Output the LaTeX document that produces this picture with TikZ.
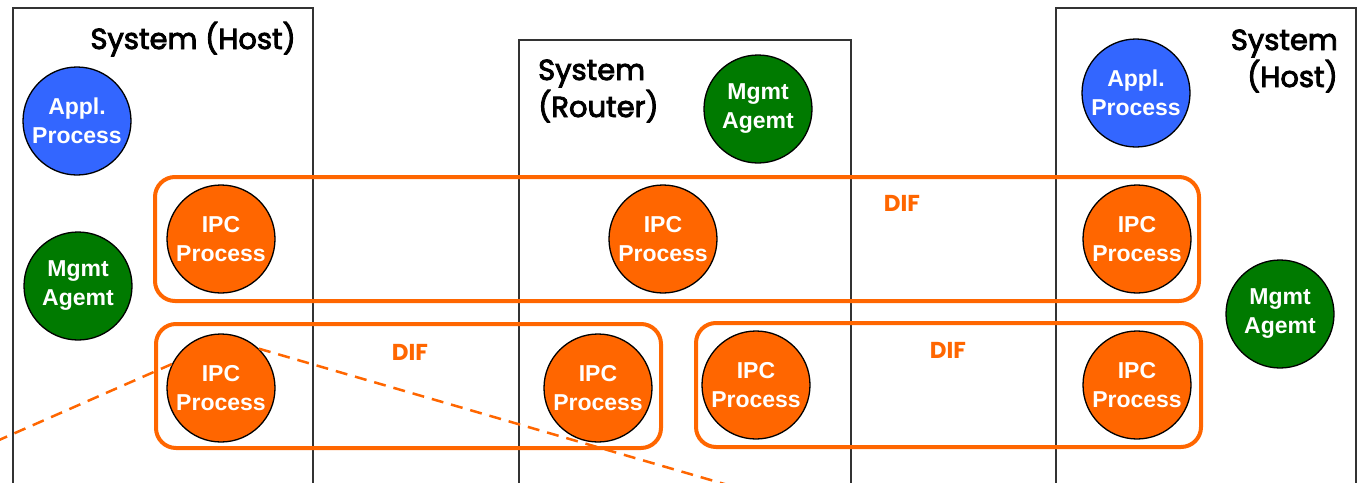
\documentclass[tikz,border=0pt]{standalone}
\usepackage{fontspec}
\usepackage{tikz}
\usetikzlibrary{positioning}
\newfontfamily\geofont{Poppins}
\newfontfamily\titlefont{Poppins}[FakeBold=3]
\newfontfamily\labelfont{Liberation Sans}
\definecolor{ipcorange}{RGB}{255,102,0}
\definecolor{applblue}{RGB}{51,102,255}
\definecolor{mgmtgreen}{RGB}{0,122,0}
\tikzset{
  sysbox/.style={draw=black!80, line width=1.3pt},
  difbox/.style={draw=ipcorange, line width=4pt, rounded corners=20pt},
  proc/.style={circle, draw=black, line width=1.3pt, minimum size=108pt, inner sep=0pt,
    align=center, text=white, font=\labelfont\bfseries\fontsize{23}{29}\selectfont},
  ipc/.style={proc, fill=ipcorange},
  appl/.style={proc, fill=applblue},
  mgmt/.style={proc, fill=mgmtgreen},
  systitle/.style={inner sep=0pt, font=\titlefont\fontsize{29}{37}\selectfont},
  diflabel/.style={text=ipcorange, font=\geofont\bfseries\fontsize{23}{28}\selectfont},
  zoomline/.style={draw=ipcorange, line width=2.5pt, dash pattern=on 12pt off 8pt},
}
\begin{document}
\begin{tikzpicture}[x=1pt, y=-1pt]
  \clip (0,0) rectangle (1359,482);

  % the three systems
  \draw[sysbox] (13,8) rectangle (313,500);
  \draw[sysbox] (519,40) rectangle (851,500);
  \draw[sysbox] (1056,8) rectangle (1356,500);
  \node[systitle, anchor=base east] (hostL) at (296,49) {System (Host)};
  \node[systitle, anchor=base west, align=left] (router) at (538,117) {System\\(Router)};
  \node[systitle, anchor=base east, align=right] (hostR) at (1338,87) {System\\(Host)};

  % DIFs
  \draw[difbox] (155,177) rectangle (1199,301);
  \draw[difbox] (156,324) rectangle (661,448);
  \draw[difbox] (696,323) rectangle (1201,447);
  \node[diflabel] (difTop) at (902,203) {DIF};
  \node[diflabel] (difL) at (410,352) {DIF};
  \node[diflabel] (difR) at (948,350) {DIF};

  % processes
  \node[appl] (applL) at (77,121) {Appl.\\Process};
  \node[mgmt] (mgmtL) at (78,286) {Mgmt\\Agemt};
  \node[ipc] (ipcTL) at (221,239) {IPC\\Process};
  \node[ipc] (ipcBL) at (221,388) {IPC\\Process};
  \node[mgmt] (mgmtM) at (758,109) {Mgmt\\Agemt};
  \node[ipc] (ipcTM) at (663,239) {IPC\\Process};
  \node[ipc] (ipcBM) at (598,388) {IPC\\Process};
  \node[ipc] (ipcBN) at (756,385) {IPC\\Process};
  \node[appl] (applR) at (1136,93) {Appl.\\Process};
  \node[ipc] (ipcTR) at (1137,239) {IPC\\Process};
  \node[ipc] (ipcBR) at (1137,385) {IPC\\Process};
  \node[mgmt] (mgmtR) at (1280,314) {Mgmt\\Agemt};

  % zoom lines out of the lower left IPC process
  \coordinate (zoomA) at (-10,444);
  \coordinate (zoomB) at (745,490);
  \draw[zoomline] (ipcBL.154) -- (zoomA);
  \draw[zoomline] (ipcBL.46) -- (zoomB);
\end{tikzpicture}
\end{document}
